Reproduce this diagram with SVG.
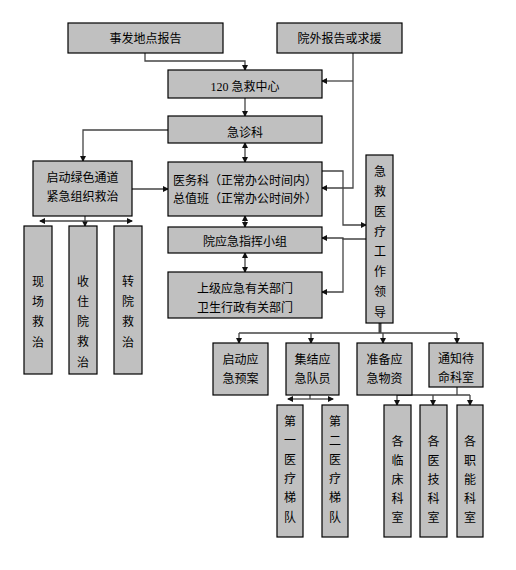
<svg xmlns="http://www.w3.org/2000/svg" width="516" height="570" viewBox="0 0 516 570">
<style>
.b{fill:#c0c0c0;stroke:#000;stroke-width:1.2}
.t{font-family:"Noto Sans CJK SC","Liberation Sans",sans-serif;font-size:12px;fill:#000;text-anchor:middle}
.c{fill:none;stroke:#444;stroke-width:1.3}
</style>
<defs>
<marker id="a" markerWidth="6" markerHeight="6" refX="5" refY="3" orient="auto" markerUnits="userSpaceOnUse"><path d="M0,0 L6,3 L0,6 Z" fill="#111"/></marker>
<marker id="s" markerWidth="6" markerHeight="6" refX="1" refY="3" orient="auto" markerUnits="userSpaceOnUse"><path d="M6,0 L0,3 L6,6 Z" fill="#111"/></marker>
</defs>
<rect width="516" height="570" fill="#fff"/>
<g id="connectors">
<path class="c" d="M145,53 V61 H245 V70" marker-end="url(#a)"/>
<path class="c" d="M353,53 V188 H322" marker-end="url(#a)"/>
<path class="c" d="M353,81 H322" marker-end="url(#a)"/>
<path class="c" d="M245,98 V116" marker-end="url(#a)"/>
<path class="c" d="M168,130 H83 V161" marker-end="url(#a)"/>
<path class="c" d="M245,143 V162" marker-start="url(#s)" marker-end="url(#a)"/>
<path class="c" d="M132,189 H168" marker-end="url(#a)"/>
<path class="c" d="M322,171 H343 V225 H366" marker-end="url(#a)"/>
<path class="c" d="M245,216 V227" marker-start="url(#s)" marker-end="url(#a)"/>
<path class="c" d="M245,253 V272" marker-start="url(#s)" marker-end="url(#a)"/>
<path class="c" d="M366,239 H343 V238 H322" marker-end="url(#a)"/>
<path class="c" d="M343,238 V292 H322" marker-end="url(#a)"/>
<path class="c" d="M85,216 V221"/>
<path class="c" d="M85,221 V226" marker-end="url(#a)"/>
<path class="c" d="M85,221 H40" marker-end="url(#a)"/>
<path class="c" d="M85,221 H132" marker-end="url(#a)"/>
<path class="c" d="M380,323 V333" style="stroke-width:3"/>
<path class="c" d="M239,333 H457"/>
<path class="c" d="M239,333 V343" marker-end="url(#a)"/>
<path class="c" d="M311,333 V343" marker-end="url(#a)"/>
<path class="c" d="M383,333 V343" marker-end="url(#a)"/>
<path class="c" d="M457,333 V343" marker-end="url(#a)"/>
<path class="c" d="M310,395 V399"/>
<path class="c" d="M310,399 H288" marker-end="url(#a)"/>
<path class="c" d="M310,399 H333" marker-end="url(#a)"/>
<path class="c" d="M457,387 V395"/>
<path class="c" d="M397,395 H470"/>
<path class="c" d="M397,395 V405" marker-end="url(#a)"/>
<path class="c" d="M433,395 V405" marker-end="url(#a)"/>
<path class="c" d="M470,395 V405" marker-end="url(#a)"/>
</g>
<g id="n1"><rect class="b" x="68" y="23" width="155" height="30"/><text class="t" x="145.5" y="43">事发地点报告</text></g>
<g id="n2"><rect class="b" x="277" y="23" width="125" height="30"/><text class="t" x="339.5" y="43">院外报告或求援</text></g>
<g id="n3"><rect class="b" x="168" y="70" width="154" height="28"/><text class="t" x="245" y="91"><tspan style="font-family:'Liberation Serif',serif">120 </tspan>急救中心</text></g>
<g id="n4"><rect class="b" x="168" y="116" width="154" height="27"/><text class="t" x="245" y="137">急诊科</text></g>
<g id="n5"><rect class="b" x="33" y="161" width="99" height="55"/><text class="t" x="82.5" y="182">启动绿色通道</text><text class="t" x="82.5" y="201">紧急组织救治</text></g>
<g id="n6"><rect class="b" x="168" y="162" width="154" height="54"/><text class="t" x="245" y="185">医务科（正常办公时间内）</text><text class="t" x="245" y="203">总值班（正常办公时间外）</text></g>
<g id="n7"><rect class="b" x="168" y="227" width="154" height="26"/><text class="t" x="245" y="246">院应急指挥小组</text></g>
<g id="n8"><rect class="b" x="168" y="272" width="154" height="46"/><text class="t" x="245" y="293">上级应急有关部门</text><text class="t" x="245" y="312">卫生行政有关部门</text></g>
<g id="n9"><rect class="b" x="366" y="155" width="27" height="168"/><text class="t" x="380"><tspan x="380" y="176">急</tspan><tspan x="380" y="196">救</tspan><tspan x="380" y="216">医</tspan><tspan x="380" y="236">疗</tspan><tspan x="380" y="256">工</tspan><tspan x="380" y="276">作</tspan><tspan x="380" y="296">领</tspan><tspan x="380" y="317">导</tspan></text></g>
<g id="n10"><rect class="b" x="24" y="226" width="28" height="148"/><text class="t" x="38"><tspan x="38" y="286">现</tspan><tspan x="38" y="306">场</tspan><tspan x="38" y="326">救</tspan><tspan x="38" y="347">治</tspan></text></g>
<g id="n11"><rect class="b" x="69" y="226" width="28" height="148"/><text class="t" x="83"><tspan x="83" y="286">收</tspan><tspan x="83" y="306">住</tspan><tspan x="83" y="326">院</tspan><tspan x="83" y="346">救</tspan><tspan x="83" y="367">治</tspan></text></g>
<g id="n12"><rect class="b" x="114" y="226" width="28" height="148"/><text class="t" x="128"><tspan x="128" y="286">转</tspan><tspan x="128" y="306">院</tspan><tspan x="128" y="326">救</tspan><tspan x="128" y="347">治</tspan></text></g>
<g id="n13"><rect class="b" x="213" y="343" width="55" height="52"/><text class="t" x="240.5" y="364">启动应</text><text class="t" x="240.5" y="383">急预案</text></g>
<g id="n14"><rect class="b" x="286" y="343" width="53" height="52"/><text class="t" x="312.5" y="364">集结应</text><text class="t" x="312.5" y="383">急队员</text></g>
<g id="n15"><rect class="b" x="357" y="343" width="55" height="52"/><text class="t" x="384.5" y="364">准备应</text><text class="t" x="384.5" y="383">急物资</text></g>
<g id="n16"><rect class="b" x="429" y="343" width="54" height="44"/><text class="t" x="456" y="363">通知待</text><text class="t" x="456" y="382">命科室</text></g>
<g id="n17"><rect class="b" x="277" y="405" width="26" height="132"/><text class="t" x="290"><tspan x="290" y="426">第</tspan><tspan x="290" y="445">一</tspan><tspan x="290" y="464">医</tspan><tspan x="290" y="483">疗</tspan><tspan x="290" y="502">梯</tspan><tspan x="290" y="522">队</tspan></text></g>
<g id="n18"><rect class="b" x="322" y="405" width="26" height="132"/><text class="t" x="335"><tspan x="335" y="426">第</tspan><tspan x="335" y="445">二</tspan><tspan x="335" y="464">医</tspan><tspan x="335" y="483">疗</tspan><tspan x="335" y="502">梯</tspan><tspan x="335" y="522">队</tspan></text></g>
<g id="n19"><rect class="b" x="384" y="405" width="27" height="132"/><text class="t" x="397.5"><tspan x="397.5" y="446">各</tspan><tspan x="397.5" y="465">临</tspan><tspan x="397.5" y="484">床</tspan><tspan x="397.5" y="503">科</tspan><tspan x="397.5" y="522">室</tspan></text></g>
<g id="n20"><rect class="b" x="420" y="405" width="27" height="132"/><text class="t" x="433.5"><tspan x="433.5" y="446">各</tspan><tspan x="433.5" y="465">医</tspan><tspan x="433.5" y="484">技</tspan><tspan x="433.5" y="503">科</tspan><tspan x="433.5" y="522">室</tspan></text></g>
<g id="n21"><rect class="b" x="457" y="405" width="26" height="132"/><text class="t" x="470"><tspan x="470" y="446">各</tspan><tspan x="470" y="465">职</tspan><tspan x="470" y="484">能</tspan><tspan x="470" y="503">科</tspan><tspan x="470" y="522">室</tspan></text></g>
</svg>
